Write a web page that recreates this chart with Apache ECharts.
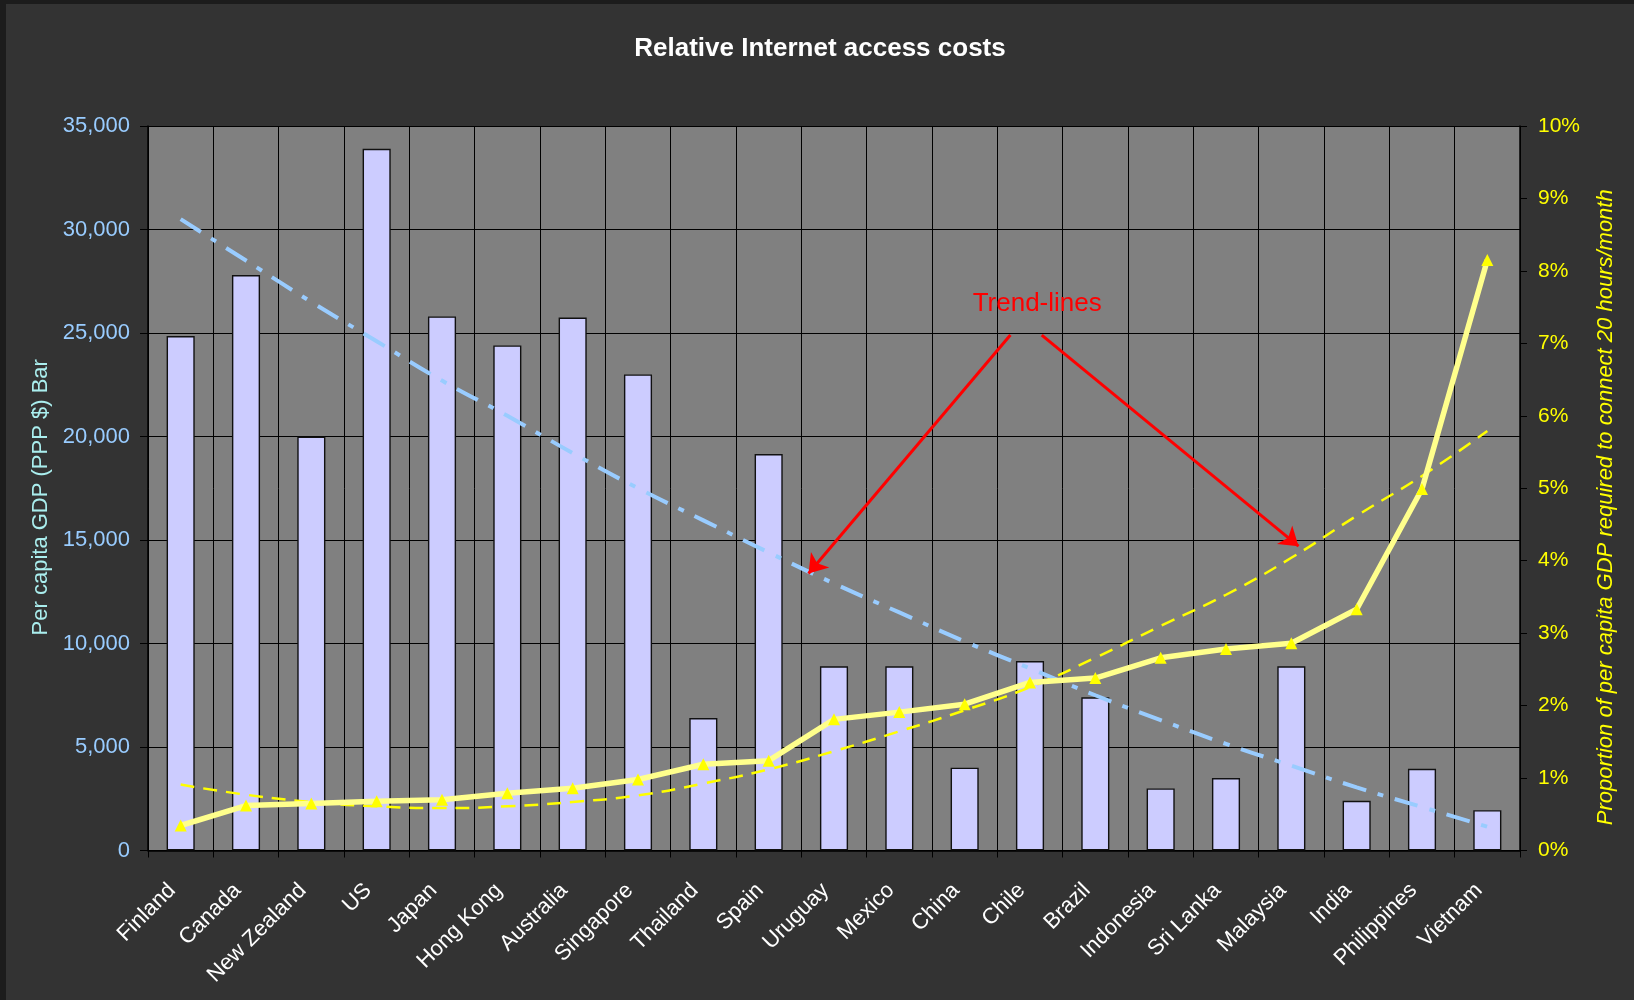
<!DOCTYPE html>
<html>
<head>
<meta charset="utf-8">
<script src="https://cdn.jsdelivr.net/npm/echarts@6/dist/echarts.min.js"></script>
<style>
  html, body { margin: 0; padding: 0; background: #1c1c1c; width: 1634px; height: 1000px; overflow: hidden; }
  #chart { position: absolute; left: 6px; top: 4px; width: 1628px; height: 996px; background: #333333; }
</style>
</head>
<body>
<div id="chart"></div>
<script>
const categories = ['Finland','Canada','New Zealand','US','Japan','Hong Kong','Australia','Singapore','Thailand','Spain','Uruguay','Mexico','China','Chile','Brazil','Indonesia','Sri Lanka','Malaysia','India','Philippines','Vietnam'];
const gdpPerCapita = [24850,27800,20000,33900,25800,24400,25750,23000,6400,19150,8900,8900,4000,9150,7400,3000,3500,8900,2400,3950,1950];
const accessCostPct = [0.345,0.62,0.65,0.68,0.70,0.79,0.86,0.98,1.19,1.24,1.81,1.91,2.02,2.32,2.38,2.66,2.78,2.86,3.33,4.99,8.15];
const gdpTrend = [30500,28500,26500,24600,22700,21000,19200,17500,15950,14400,12900,11500,10100,8800,7500,6300,5150,4100,3050,2100,1150];
const costTrend = [0.91,0.77,0.67,0.61,0.585,0.61,0.67,0.76,0.925,1.12,1.37,1.645,1.935,2.255,2.66,3.10,3.53,4.04,4.62,5.17,5.79];
// annotation in data space: [xStart(category index), yStart(GDP), xEnd, yEnd]
const annotationArrows = [[12.7, 24900, 9.61, 13380], [13.18, 24900, 17.11, 14700]];
const annotationText = {label: 'Trend-lines', x: 13.11, y: 26400};

const FONT = 'Liberation Sans, Arial, sans-serif';
const chart = echarts.init(document.getElementById('chart'));
chart.setOption({
  animation: false,
  backgroundColor: '#333333',
  title: {
    text: 'Relative Internet access costs',
    left: 'center', top: 27,
    textStyle: { color: '#ffffff', fontSize: 26, fontWeight: 'bold', fontFamily: FONT }
  },
  grid: { left: 142, right: 114, top: 122, bottom: 149.5, show: true, backgroundColor: '#808080', borderWidth: 0, containLabel: false },
  xAxis: [{
    type: 'category', data: categories, boundaryGap: true,
    axisLine: { show: true, onZero: false, lineStyle: { color: '#000', width: 1.5 } },
    axisTick: { show: true, length: 7, lineStyle: { color: '#000' } },
    splitLine: { show: true, lineStyle: { color: '#000', width: 1 } },
    axisLabel: { interval: 0, rotate: 45, color: '#ffffff', fontSize: 22, fontFamily: FONT, margin: 28, padding: [0, 12, 0, 0] }
  }, {
    type: 'value', min: -0.5, max: 20.5, show: false,
    axisLine: { onZero: false }
  }],
  yAxis: [{
    type: 'value', min: 0, max: 35000, interval: 5000, position: 'left',
    name: 'Per capita GDP (PPP $) Bar', nameLocation: 'middle', nameRotate: 90, nameGap: 96,
    nameTextStyle: { color: '#aaeeee', fontSize: 22, fontFamily: FONT, padding: [0, 18, 0, 0] },
    axisLine: { show: true, onZero: false, lineStyle: { color: '#000', width: 1.5 } },
    axisTick: { show: true, length: 8, lineStyle: { color: '#000' } },
    splitLine: { show: true, lineStyle: { color: '#000', width: 1 } },
    axisLabel: { color: '#99ccff', fontSize: 22, fontFamily: FONT, margin: 18,
      formatter: v => v.toLocaleString('en-US') }
  }, {
    type: 'value', min: 0, max: 10, interval: 1, position: 'right',
    name: 'Proportion of per capita GDP required to connect 20 hours/month', nameLocation: 'middle', nameRotate: 90, nameGap: 75,
    nameTextStyle: { color: '#ffff00', fontSize: 22, fontStyle: 'italic', fontFamily: FONT, padding: [0, 38, 0, 0] },
    axisLine: { show: true, onZero: false, lineStyle: { color: '#000', width: 1.5 } },
    axisTick: { show: true, length: 7, lineStyle: { color: '#000' } },
    splitLine: { show: false },
    axisLabel: { color: '#ffff00', fontSize: 21, fontFamily: FONT, margin: 18, formatter: '{value}%' }
  }],
  series: [{
    type: 'bar', data: gdpPerCapita, barWidth: '43%', xAxisIndex: 0, yAxisIndex: 0,
    itemStyle: { color: '#ccccff', borderColor: '#111', borderWidth: 1.4 },
    z: 2
  }, {
    type: 'line', data: gdpTrend, xAxisIndex: 0, yAxisIndex: 0, smooth: true, symbol: 'none',
    lineStyle: { color: '#99ccff', width: 4, type: [24, 12, 6, 12] }, z: 3
  }, {
    type: 'line', data: costTrend, xAxisIndex: 0, yAxisIndex: 1, smooth: true, symbol: 'none',
    lineStyle: { color: '#ffff00', width: 2.5, type: [14, 9] }, z: 4
  }, {
    type: 'line', data: accessCostPct, xAxisIndex: 0, yAxisIndex: 1, symbol: 'triangle', symbolSize: 12,
    lineStyle: { color: '#ffff8c', width: 5.5 }, itemStyle: { color: '#ffff00' }, z: 5
  }, {
    type: 'scatter', data: [], xAxisIndex: 1, yAxisIndex: 0, z: 6,
    markLine: {
      silent: true, symbol: ['none', 'arrow'], symbolSize: 18,
      lineStyle: { color: '#ff0000', width: 3, type: 'solid' },
      label: { show: false },
      data: annotationArrows.map(a => [{ coord: [a[0], a[1]] }, { coord: [a[2], a[3]] }])
    },
    markPoint: {
      silent: true, symbol: 'circle', symbolSize: 0,
      label: { show: true, position: 'inside', color: '#ff0000', fontSize: 26, fontFamily: FONT, formatter: annotationText.label },
      data: [{ coord: [annotationText.x, annotationText.y] }]
    }
  }]
});
</script>
</body>
</html>
